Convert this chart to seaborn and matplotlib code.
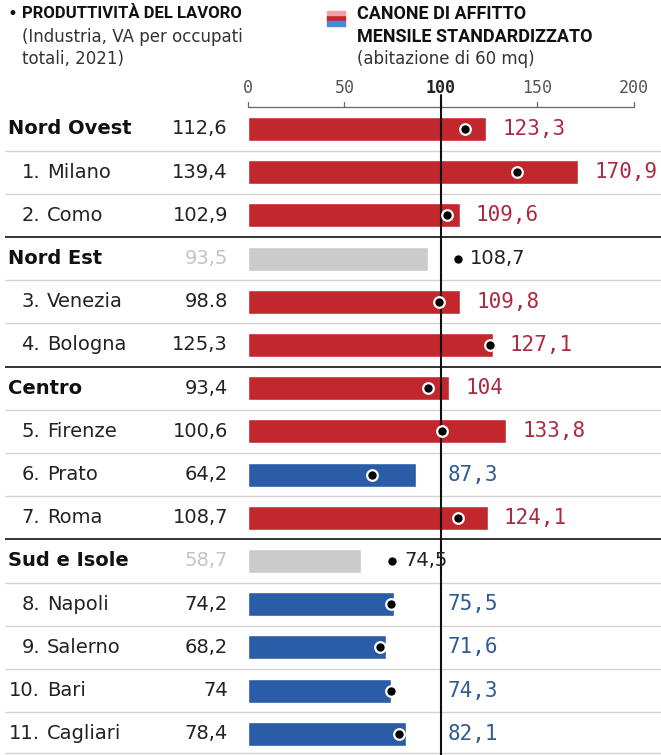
import numpy as np
import pandas as pd
import matplotlib
matplotlib.use("Agg")
import matplotlib.pyplot as plt
import seaborn as sns

# ---------------- data ----------------
names = ["Nord Ovest", "1. Milano", "2. Como", "Nord Est", "3. Venezia", "4. Bologna",
         "Centro", "5. Firenze", "6. Prato", "7. Roma", "Sud e Isole", "8. Napoli",
         "9. Salerno", "10. Bari", "11. Cagliari"]
productivity = [112.6, 139.4, 102.9, 93.5, 98.8, 125.3, 93.4, 100.6, 64.2, 108.7,
                58.7, 74.2, 68.2, 74.0, 78.4]
rent = [123.3, 170.9, 109.6, 108.7, 109.8, 127.1, 104.0, 133.8, 87.3, 124.1,
        74.5, 75.5, 71.6, 74.3, 82.1]
prod_labels = ["112,6", "139,4", "102,9", "93,5", "98.8", "125,3", "93,4", "100,6",
               "64,2", "108,7", "58,7", "74,2", "68,2", "74", "78,4"]
rent_labels = ["123,3", "170,9", "109,6", "108,7", "109,8", "127,1", "104", "133,8",
               "87,3", "124,1", "74,5", "75,5", "71,6", "74,3", "82,1"]
is_group = [True, False, False, True, False, False, True, False, False, False,
            True, False, False, False, False]
kind = ["sopra", "sopra", "sopra", "aggregato", "sopra", "sopra", "sopra", "sopra",
        "sotto", "sopra", "aggregato", "sotto", "sotto", "sotto", "sotto"]
ticks = [0, 50, 100, 150, 200]

df = pd.DataFrame({"name": names, "prod": productivity, "rent": rent,
                   "kind": kind, "group": is_group})
agg = df["kind"] == "aggregato"
df["bar"] = np.where(agg, df["prod"], df["rent"])
df["dot"] = np.where(agg, df["rent"], df["prod"])
df["pos"] = np.arange(len(df))

RED, BLUE, GRAY = "#c1272d", "#2b5ca8", "#cbcbcb"
RED_T, BLUE_T, GRAY_T = "#ac2a40", "#2f5b94", "#c4c4c4"
palette = {"sopra": RED, "sotto": BLUE, "aggregato": GRAY}

# ---------------- layout helpers ----------------
W, H = 661, 755
X0, PXU = 248.0, 1.93     # px of value 0, px per unit
Y0, PXR = 129.0, 43.2     # px of first row, px per row
def xd(px): return (px - X0) / PXU
def yd(py): return (py - Y0) / PXR

sns.set_theme(style="white")
plt.rcParams["font.family"] = ["DejaVu Sans"]
SANS = ["DejaVu Sans"]
MONO = ["DejaVu Sans Mono", "DejaVu Sans"]
HEAD = ["Roboto", "DejaVu Sans"]

fig = plt.figure(figsize=(W / 100, H / 100), dpi=100)
ax = fig.add_axes([0, 0, 1, 1])

sns.barplot(data=df, y="name", x="bar", hue="kind", palette=palette, dodge=False,
            width=0.56, orient="h", legend=False, saturation=1, ax=ax, zorder=2)
sns.scatterplot(x=df["dot"], y=df["pos"], color="black", edgecolor="white",
                s=58, linewidth=1.6, zorder=4, ax=ax)

ax.set_xlim(xd(0), xd(W))
ax.set_ylim(yd(H), yd(0))
ax.set_axis_off()

# separators
for i in range(len(df) - 1):
    dark = df["group"].iloc[i + 1]
    ax.plot([xd(5), xd(W)], [i + 0.5, i + 0.5],
            color="#222222" if dark else "#d2d2d2",
            lw=1.3 if dark else 1.0, zorder=1, solid_capstyle="butt")
ax.plot([xd(5), xd(W)], [14.45, 14.45], color="#d2d2d2", lw=1.0, zorder=1)

# top scale
ax.plot([ticks[0], ticks[-1]], [-0.5, -0.5], color="#666666", lw=0.9, zorder=3)
for t in ticks:
    ax.plot([t, t], [-0.5, -0.62], color="#666666", lw=0.9, zorder=3)
    ax.text(t, yd(88), str(t), ha="center", va="center", fontsize=12,
            family=MONO, color="#222222" if t == 100 else "#555555",
            fontweight="bold" if t == 100 else "normal")
ax.plot([100, 100], [yd(95), yd(H)], color="#111111", lw=1.5, zorder=3)

# row labels
for i, r in df.iterrows():
    if r["group"]:
        ax.text(xd(8), i, r["name"], ha="left", va="center", fontsize=14,
                family=SANS, fontweight="bold", color="#111111")
    else:
        num, nm = r["name"].split(" ", 1)
        ax.text(xd(40), i, num, ha="right", va="center", fontsize=14,
                family=SANS, color="#222222")
        ax.text(xd(47), i, nm, ha="left", va="center", fontsize=14,
                family=SANS, color="#222222")
    ax.text(xd(228), i, prod_labels[i], ha="right", va="center", fontsize=14,
            family=SANS, color=GRAY_T if r["kind"] == "aggregato" else "#222222")
    if r["kind"] == "sopra":
        ax.text(r["bar"] + 8.5, i, rent_labels[i], ha="left", va="center",
                fontsize=15, family=MONO, color=RED_T)
    elif r["kind"] == "sotto":
        ax.text(103.5, i, rent_labels[i], ha="left", va="center",
                fontsize=15, family=MONO, color=BLUE_T)
    else:
        ax.text(r["dot"] + 6.5, i, rent_labels[i], ha="left", va="center",
                fontsize=14, family=SANS, color="#222222")

# header
ax.text(xd(8), yd(14), "•", ha="left", va="center", fontsize=12, color="#111111")
ax.text(xd(22), yd(14), "PRODUTTIVITÀ DEL LAVORO", ha="left", va="center",
        fontsize=12, family=HEAD, fontweight="bold", color="#111111")
ax.text(xd(22), yd(37), "(Industria, VA per occupati", ha="left", va="center",
        fontsize=12, family=SANS, color="#333333")
ax.text(xd(22), yd(59), "totali, 2021)", ha="left", va="center",
        fontsize=12, family=SANS, color="#333333")
ax.add_patch(plt.Rectangle((xd(327), yd(16)), 18 / PXU, 5 / PXR, color=RED, zorder=3))
ax.add_patch(plt.Rectangle((xd(327), yd(21)), 18 / PXU, 5 / PXR, color="#3f8fd6", zorder=3))
ax.add_patch(plt.Rectangle((xd(327), yd(11)), 18 / PXU, 4 / PXR, color="#f3a0a8", zorder=3))
ax.text(xd(357), yd(14), "CANONE DI AFFITTO", ha="left", va="center",
        fontsize=13, family=HEAD, fontweight="bold", color="#111111")
ax.text(xd(357), yd(37), "MENSILE STANDARDIZZATO", ha="left", va="center",
        fontsize=13, family=HEAD, fontweight="bold", color="#111111")
ax.text(xd(357), yd(59), "(abitazione di 60 mq)", ha="left", va="center",
        fontsize=12, family=SANS, color="#333333")

fig.savefig("out.png", dpi=100)
